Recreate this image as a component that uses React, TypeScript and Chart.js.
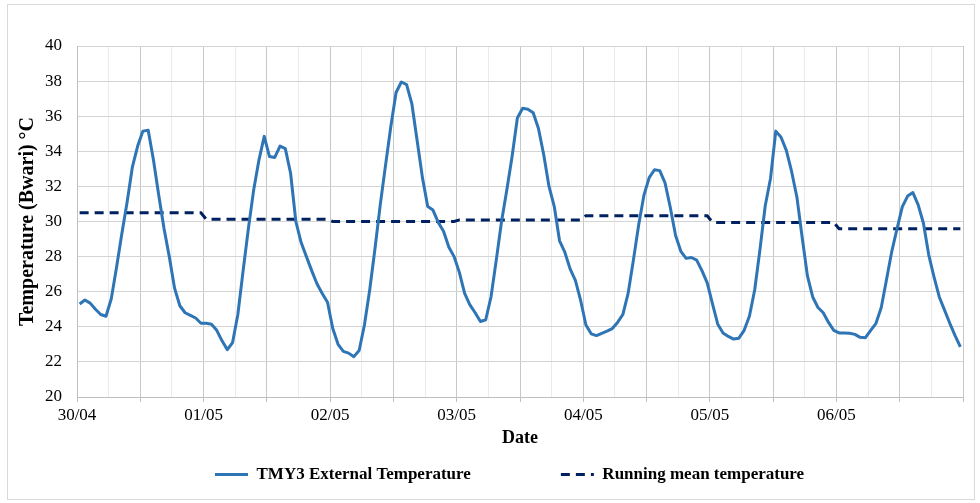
import React, { useEffect, useRef } from "react";
import { Chart, registerables } from "chart.js";

Chart.register(...registerables);

// Day tick labels (every 24 h)
const dayLabels = ["30/04", "01/05", "02/05", "03/05", "04/05", "05/05", "06/05"];

// Hourly TMY3 external temperature (°C), one value per hour (mid-hour)
const tmy3Day1 = [25.3, 25.53, 25.35, 25.0, 24.7, 24.6, 25.6, 27.4, 29.3, 31.1, 33.1, 34.3, 35.15, 35.2, 33.5, 31.5, 29.6, 28.0, 26.2, 25.2, 24.8, 24.65, 24.5, 24.2];
const tmy3Day2 = [24.2, 24.15, 23.8, 23.2, 22.7, 23.1, 24.7, 27.2, 29.6, 31.8, 33.5, 34.85, 33.7, 33.65, 34.3, 34.15, 32.75, 30.0, 28.8, 28.0, 27.2, 26.45, 25.9, 25.4];
const tmy3Day3 = [23.9, 23.0, 22.6, 22.5, 22.3, 22.65, 24.1, 26.1, 28.45, 30.95, 33.2, 35.4, 37.35, 37.95, 37.8, 36.7, 34.6, 32.5, 30.85, 30.65, 29.95, 29.45, 28.55, 28.0];
const tmy3Day4 = [27.1, 25.9, 25.25, 24.8, 24.3, 24.4, 25.7, 27.8, 30.0, 31.8, 33.7, 35.9, 36.45, 36.4, 36.2, 35.3, 33.8, 32.0, 30.85, 28.9, 28.25, 27.3, 26.65, 25.5];
const tmy3Day5 = [24.1, 23.6, 23.5, 23.63, 23.75, 23.9, 24.25, 24.7, 25.9, 27.8, 29.8, 31.5, 32.5, 32.95, 32.9, 32.2, 30.8, 29.2, 28.3, 27.9, 27.95, 27.8, 27.2, 26.5];
const tmy3Day6 = [25.3, 24.15, 23.65, 23.45, 23.3, 23.35, 23.8, 24.6, 26.1, 28.4, 30.9, 32.45, 35.15, 34.8, 34.05, 32.85, 31.4, 29.1, 26.9, 25.7, 25.1, 24.8, 24.25, 23.8];
const tmy3Day7 = [23.65, 23.65, 23.63, 23.57, 23.4, 23.38, 23.8, 24.2, 25.1, 26.7, 28.3, 29.6, 30.85, 31.45, 31.65, 30.95, 29.9, 28.1, 26.85, 25.7, 24.95, 24.2, 23.5, 22.85];

// Daily running mean temperature (°C)
const runningMeanDaily = [30.5, 30.13, 30.0, 30.09, 30.33, 29.95, 29.59];

const tmy3 = [...tmy3Day1, ...tmy3Day2, ...tmy3Day3, ...tmy3Day4, ...tmy3Day5, ...tmy3Day6, ...tmy3Day7];

const serif = '"Liberation Serif", "Times New Roman", serif';

export default function App() {
  const ref = useRef<HTMLCanvasElement | null>(null);

  useEffect(() => {
    if (!ref.current) return;
    const tempPts = tmy3.map((v, i) => ({ x: i + 0.5, y: v }));
    const meanPts = tmy3.map((_, i) => ({ x: i + 0.5, y: runningMeanDaily[Math.floor(i / 24)] }));

    const legendPos = {
      id: "legendPos",
      afterLayout(chart: any) {
        const lg = chart.legend;
        if (!lg || !lg.lineWidths) return;
        const pad = lg.options.labels.padding;
        const itemH = lg._itemHeight || 20;
        const start = (lg.left + pad + lg.right - lg.lineWidths[0]) / 2;
        const dx = 215 - start;
        lg.left += dx;
        lg.right += dx;
        lg.top = 476 - itemH / 2 - pad;
      },
    };

    const chart = new Chart(ref.current, {
      type: "line",
      data: {
        datasets: [
          {
            label: "TMY3 External Temperature",
            data: tempPts,
            borderColor: "#2E75B6",
            backgroundColor: "#2E75B6",
            borderWidth: 3,
            pointRadius: 0,
            tension: 0,
            borderJoinStyle: "round",
          },
          {
            label: "Running mean temperature",
            data: meanPts,
            borderColor: "#002060",
            backgroundColor: "#002060",
            borderWidth: 3,
            borderDash: [9, 6],
            pointRadius: 0,
            tension: 0,
          },
        ],
      },
      options: {
        animation: false,
        responsive: false,
        maintainAspectRatio: false,
        layout: { padding: { left: 0, right: 17, top: 46, bottom: 3 } },
        plugins: {
          tooltip: { enabled: false },
          legend: {
            position: "bottom",
            maxHeight: 48,
            labels: {
              usePointStyle: true,
              pointStyle: "line",
              pointStyleWidth: 33,
              padding: 90,
              color: "#000",
              font: { family: serif, size: 17, weight: "bold" },
              generateLabels: (c: any) => {
                const items = Chart.defaults.plugins.legend.labels.generateLabels(c);
                return items.map((it: any) => {
                  const ds: any = c.data.datasets[it.datasetIndex];
                  return {
                    ...it,
                    lineDash: ds.borderDash || [],
                    lineWidth: 3,
                    strokeStyle: ds.borderColor,
                    fillStyle: ds.borderColor,
                    pointStyle: "line",
                  };
                });
              },
            },
          },
        },
        scales: {
          x: {
            type: "linear",
            min: 0,
            max: 168,
            afterFit(scale: any) {
              scale.height = 55;
            },
            border: { color: "#bfbfbf", width: 1 },
            grid: {
              color: (ctx: any) => (ctx.tick && ctx.tick.value % 12 === 0 ? "#c8c8c8" : "#ebebeb"),
              tickColor: (ctx: any) => (ctx.tick && ctx.tick.value % 12 === 0 ? "#bfbfbf" : "rgba(0,0,0,0)"),
              tickLength: 5,
            },
            ticks: {
              stepSize: 6,
              autoSkip: false,
              maxRotation: 0,
              padding: 3,
              color: "#000",
              font: { family: serif, size: 17 },
              callback: (v: any) => {
                const n = Number(v);
                if (n % 24 !== 0) return "";
                const d = n / 24;
                return d < dayLabels.length ? dayLabels[d] : "";
              },
            },
            title: {
              display: true,
              text: "Date",
              color: "#000",
              font: { family: serif, size: 18, weight: "bold" },
              padding: { top: 0, bottom: 3 },
            },
          },
          y: {
            min: 20,
            max: 40,
            afterFit(scale: any) {
              scale.width = 77;
            },
            border: { color: "#bfbfbf", width: 1 },
            grid: { color: "#d4d4d4", drawTicks: false },
            ticks: {
              stepSize: 2,
              padding: 15,
              color: "#000",
              font: { family: serif, size: 17 },
            },
            title: {
              display: true,
              text: "Temperature (Bwari) °C",
              color: "#000",
              font: { family: serif, size: 20, weight: "bold" },
              padding: { top: 16, bottom: 0 },
            },
          },
        },
      },
      plugins: [legendPos],
    } as any);

    return () => chart.destroy();
  }, []);

  return (
    <div style={{ position: "absolute", left: 0, top: 0, width: 980, height: 503, background: "#fff" }}>
      <div
        style={{
          position: "absolute",
          left: 7,
          top: 4,
          width: 968,
          height: 496,
          border: "1px solid #d9d9d9",
          boxSizing: "border-box",
        }}
      />
      <canvas ref={ref} width={980} height={503} style={{ position: "absolute", left: 0, top: 0 }} />
    </div>
  );
}
